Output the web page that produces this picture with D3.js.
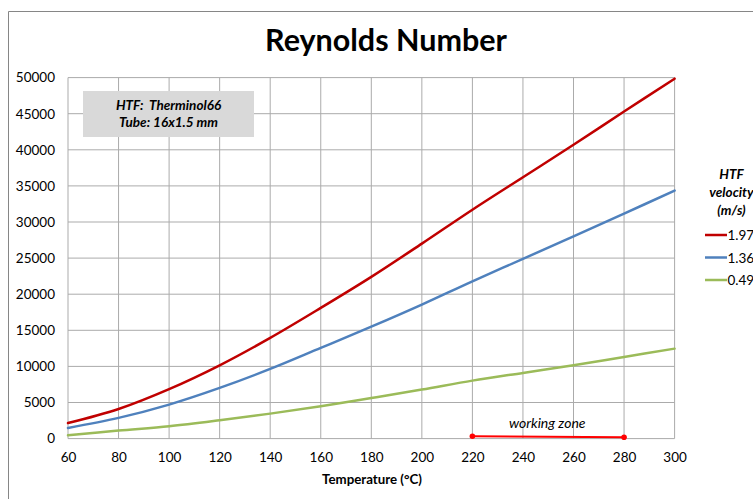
<!DOCTYPE html>
<html>
<head>
<meta charset="utf-8">
<script src="https://cdn.jsdelivr.net/npm/d3@7/dist/d3.min.js"></script>
<style>
  html, body { margin: 0; padding: 0; background: #fff; overflow: hidden; }
  svg { display: block; font-family: Lato, "Open Sans", sans-serif; }
</style>
</head>
<body>
<svg id="chart" width="753" height="499"></svg>
<script>
// ---- data ----
const temperatures = [60, 80, 100, 120, 140, 160, 180, 200, 220, 240, 260, 280, 300];
const re197 = [2150, 4100, 6850, 10150, 13950, 18100, 22400, 27000, 31700, 36200, 40700, 45300, 49850];
const re136 = [1480, 2870, 4710, 7020, 9650, 12560, 15500, 18560, 21790, 24890, 28020, 31160, 34350];
const re049 = [460, 1110, 1710, 2540, 3460, 4480, 5620, 6790, 8030, 9100, 10150, 11310, 12460];
const seriesNames = ["1.97", "1.36", "0.49"];
const seriesColors = ["#c00000", "#4f81bd", "#9bbb59"];
const workingZoneT = [220, 280];
const workingZoneRe = [320, 180];
const xTicks = [60, 80, 100, 120, 140, 160, 180, 200, 220, 240, 260, 280, 300];
const yTicks = [0, 5000, 10000, 15000, 20000, 25000, 30000, 35000, 40000, 45000, 50000];

const svg = d3.select("#chart");

// outer chart border
svg.append("path")
  .attr("d", "M8.5,499 L8.5,11.5 L753,11.5")
  .attr("fill", "none").attr("stroke", "#868686").attr("stroke-width", 1);

const x = d3.scaleLinear().domain([60, 300]).range([68, 674.6]);
const y = d3.scaleLinear().domain([0, 50000]).range([438.6, 77.6]);

// gridlines
const grid = svg.append("g");
grid.selectAll("line.v").data(xTicks).join("line")
  .attr("x1", d => x(d)).attr("x2", d => x(d))
  .attr("y1", y(0)).attr("y2", y(50000))
  .attr("stroke", "#ababab").attr("stroke-width", 1);
grid.selectAll("line.h").data(yTicks).join("line")
  .attr("y1", d => y(d)).attr("y2", d => y(d))
  .attr("x1", x(60)).attr("x2", x(300))
  .attr("stroke", "#ababab").attr("stroke-width", 1);

// axes (labels only)
const yAxis = d3.axisLeft(y).tickValues(yTicks).tickSize(0).tickPadding(13).tickFormat(d3.format("d"));
const gy = svg.append("g").attr("transform", `translate(${x(60)},0)`).call(yAxis);
gy.select(".domain").remove();
gy.selectAll("text").attr("font-size", 13.5).attr("fill", "#000").attr("font-family", "Lato, sans-serif");

const xAxis = d3.axisBottom(x).tickValues(xTicks).tickSize(0).tickPadding(14).tickFormat(d3.format("d"));
const gx = svg.append("g").attr("transform", `translate(0,${y(0)})`).call(xAxis);
gx.select(".domain").remove();
gx.selectAll("text").attr("font-size", 13.5).attr("fill", "#000").attr("font-family", "Lato, sans-serif");

// series lines
const allSeries = [re197, re136, re049];
const line = d3.line().x(d => x(d[0])).y(d => y(d[1])).curve(d3.curveCatmullRom.alpha(0.5));
allSeries.forEach((vals, i) => {
  svg.append("path")
    .datum(temperatures.map((t, j) => [t, vals[j]]))
    .attr("d", line)
    .attr("fill", "none")
    .attr("stroke", seriesColors[i])
    .attr("stroke-width", 2.5)
    .attr("stroke-linecap", "round");
});

// working zone
const wz = workingZoneT.map((t, j) => [t, workingZoneRe[j]]);
svg.append("path").datum(wz)
  .attr("d", d3.line().x(d => x(d[0])).y(d => y(d[1])))
  .attr("stroke", "#ff0000").attr("stroke-width", 2).attr("fill", "none");
svg.selectAll("circle.wz").data(wz).join("circle")
  .attr("cx", d => x(d[0])).attr("cy", d => y(d[1])).attr("r", 2.8).attr("fill", "#ff0000");
svg.append("text")
  .attr("x", x(250) - 1).attr("y", 427.5)
  .attr("text-anchor", "middle").attr("font-size", 14).attr("font-style", "italic")
  .attr("fill", "#000").text("working zone");

// title
svg.append("text")
  .attr("x", 386).attr("y", 51)
  .attr("text-anchor", "middle").attr("font-size", 30.5).attr("font-weight", "bold")
  .attr("fill", "#000").text("Reynolds Number");

// x axis title
svg.append("text")
  .attr("x", 372).attr("y", 484)
  .attr("text-anchor", "middle").attr("font-size", 13.3).attr("font-weight", "bold")
  .attr("fill", "#000").text("Temperature (°C)");

// annotation box
svg.append("rect")
  .attr("x", 83).attr("y", 91).attr("width", 171).attr("height", 46)
  .attr("fill", "#d9d9d9");
const ann = ["HTF:  Therminol66", "Tube: 16x1.5 mm"];
svg.selectAll("text.ann").data(ann).join("text")
  .attr("x", 168.5).attr("y", (d, i) => 110 + i * 16.5)
  .attr("text-anchor", "middle").attr("font-size", 13.5)
  .attr("font-weight", "bold").attr("font-style", "italic")
  .attr("xml:space", "preserve")
  .style("white-space", "pre")
  .attr("fill", "#000").text(d => d);

// legend
const legTitle = ["HTF", "velocity", "(m/s)"];
svg.selectAll("text.lt").data(legTitle).join("text")
  .attr("x", 731.5).attr("y", (d, i) => 178.5 + i * 18)
  .attr("text-anchor", "middle").attr("font-size", 13.5)
  .attr("font-weight", "bold").attr("font-style", "italic")
  .attr("fill", "#000").text(d => d);
const legY = [235, 257.5, 280];
seriesNames.forEach((name, i) => {
  svg.append("line")
    .attr("x1", 705).attr("x2", 727).attr("y1", legY[i]).attr("y2", legY[i])
    .attr("stroke", seriesColors[i]).attr("stroke-width", 2.5);
  svg.append("text")
    .attr("x", 727.5).attr("y", legY[i] + 5)
    .attr("font-size", 13.5).attr("fill", "#000").text(name);
});
</script>
</body>
</html>
